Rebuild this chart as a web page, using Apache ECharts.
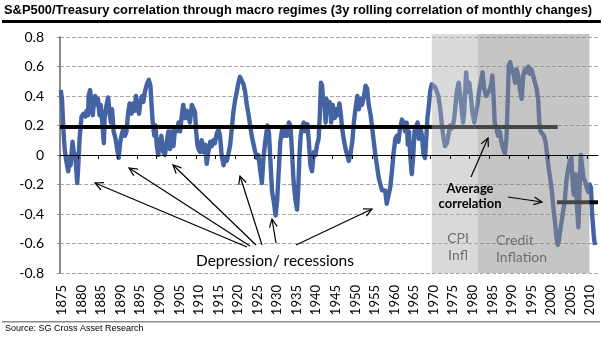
<!DOCTYPE html>
<html>
<head>
<meta charset="utf-8">
<script src="https://cdn.jsdelivr.net/npm/echarts@6/dist/echarts.min.js"></script>
<style>
html,body{margin:0;padding:0;background:#fff;}
#c{width:603px;height:339px;}
</style>
</head>
<body>
<div id="c"></div>
<script>
// ---- data ----
var years = [
1874.7,1875.0,1875.4,1875.7,1876.1,1876.6,1877.0,1877.2,1877.7,1878.0,1878.4,1878.9,1879.1,1879.5,1880.0,1880.5,1881.0,1881.3,1881.7,1881.8,
1882.2,1882.5,1882.9,1883.2,1883.5,1883.9,1884.2,1884.6,1884.9,1885.3,1885.7,1885.9,1886.4,1886.8,1887.1,1887.5,1887.8,1888.2,1888.7,1889.1,
1889.5,1889.9,1890.2,1890.6,1891.1,1891.5,1891.9,1892.3,1892.8,1893.2,1893.6,1893.9,1894.3,1894.7,1895.1,1895.5,1895.8,1896.2,1896.7,1897.2,
1897.6,1897.9,1898.2,1898.6,1898.9,1899.2,1899.6,1900.0,1900.4,1900.9,1901.3,1901.8,1902.2,1902.6,1903.0,1903.5,1903.9,1904.3,1904.8,1905.2,
1905.6,1906.0,1906.5,1906.9,1907.3,1907.7,1908.2,1908.6,1909.0,1909.3,1909.6,1909.9,1910.3,1910.7,1911.2,1911.6,1912.0,1912.4,1912.9,1913.3,
1913.7,1914.1,1914.6,1915.0,1915.4,1915.8,1916.3,1916.7,1917.1,1917.5,1918.0,1918.4,1918.8,1919.3,1919.7,1920.1,1920.5,1921.0,1921.4,1921.8,
1922.2,1922.7,1923.1,1923.5,1923.9,1924.4,1924.8,1925.2,1925.6,1926.1,1926.5,1927.0,1927.5,1927.9,1928.3,1928.7,1929.1,1929.6,1930.0,1930.4,
1930.8,1931.3,1931.7,1932.1,1932.5,1933.0,1933.4,1933.8,1934.2,1934.7,1935.1,1935.4,1935.7,1936.0,1936.4,1936.8,1937.2,1937.7,1938.1,1938.5,
1938.9,1939.4,1939.8,1940.2,1940.6,1940.9,1941.2,1941.5,1941.8,1942.0,1942.4,1942.6,1942.9,1943.4,1943.8,1944.2,1944.7,1945.1,1945.5,1945.9,
1946.3,1946.6,1947.0,1947.5,1947.9,1948.3,1948.7,1949.2,1949.6,1950.0,1950.5,1950.9,1951.3,1951.7,1952.2,1952.6,1953.0,1953.4,1953.9,1954.3,
1954.7,1955.1,1955.6,1956.0,1956.4,1956.8,1957.2,1957.6,1958.0,1958.4,1958.9,1959.3,1959.7,1960.2,1960.6,1961.0,1961.4,1961.9,1962.3,1962.7,
1963.1,1963.4,1963.7,1964.0,1964.4,1964.8,1965.1,1965.4,1965.9,1966.2,1966.6,1967.0,1967.4,1967.8,1968.1,1968.4,1968.8,1969.1,1969.5,1970.0,
1970.4,1970.8,1971.2,1971.7,1972.1,1972.5,1972.9,1973.4,1973.8,1974.2,1974.6,1975.1,1975.5,1975.9,1976.4,1976.8,1977.2,1977.5,1977.8,1978.3,
1978.7,1979.1,1979.5,1979.9,1980.4,1980.8,1981.2,1981.6,1982.1,1982.5,1982.9,1983.4,1983.9,1984.4,1984.8,1985.0,1985.3,1985.6,1986.1,1986.5,
1986.9,1987.3,1987.8,1988.2,1988.6,1988.9,1989.2,1989.6,1989.9,1990.3,1990.8,1991.2,1991.6,1992.0,1992.5,1992.9,1993.3,1993.7,1994.2,1994.6,
1995.0,1995.4,1995.9,1996.3,1996.7,1997.0,1997.3,1997.7,1998.2,1998.6,1999.0,1999.4,1999.9,2000.3,2000.6,2001.0,2001.3,2001.7,2002.0,2002.3,
2002.7,2003.1,2003.5,2003.9,2004.4,2004.8,2005.2,2005.5,2005.8,2006.3,2006.6,2007.0,2007.3,2007.6,2008.0,2008.3,2008.7,2009.1,2009.5,2009.9,
2010.2,2010.5,2010.9,2011.2
];
var correlation = [
0.44,0.38,0.16,0.04,-0.04,-0.11,-0.02,-0.07,0.09,0.02,0.00,-0.19,-0.11,0.11,0.26,0.28,0.26,0.30,0.27,0.40,
0.44,0.36,0.27,0.38,0.40,0.34,0.38,0.27,0.34,0.22,0.08,0.25,0.34,0.39,0.31,0.22,0.31,0.16,0.11,0.04,
-0.02,0.09,0.13,0.17,0.13,0.16,0.28,0.35,0.28,0.35,0.30,0.40,0.33,0.28,0.37,0.40,0.36,0.43,0.48,0.51,
0.47,0.34,0.22,0.13,0.20,0.07,0.00,0.08,0.13,0.02,0.00,0.09,0.16,0.04,0.16,0.06,0.18,0.16,0.22,0.16,
0.26,0.34,0.25,0.30,0.26,0.22,0.34,0.35,0.29,0.16,0.07,0.04,0.02,0.10,0.02,0.07,-0.06,0.02,0.09,0.06,
0.10,0.08,0.15,0.17,0.13,0.00,-0.07,-0.02,-0.04,0.00,0.07,0.18,0.29,0.38,0.43,0.49,0.53,0.52,0.48,0.43,
0.35,0.27,0.20,0.13,0.08,0.02,-0.02,0.00,-0.09,-0.19,-0.02,0.10,0.20,0.15,-0.05,-0.25,-0.31,-0.41,-0.31,-0.11,
0.09,0.18,0.13,0.19,0.13,0.22,0.20,0.02,-0.18,-0.31,-0.37,-0.22,0.00,0.13,0.19,0.22,0.16,0.21,0.09,-0.07,
-0.11,0.02,0.00,0.07,0.11,0.27,0.49,0.47,0.34,0.38,0.22,0.38,0.29,0.36,0.22,0.34,0.25,0.31,0.27,0.35,
0.27,0.18,0.11,0.04,0.00,-0.04,0.00,0.09,0.22,0.31,0.40,0.31,0.38,0.34,0.40,0.47,0.45,0.34,0.27,0.18,
0.09,0.00,-0.09,-0.16,-0.20,-0.24,-0.25,-0.24,-0.33,-0.28,-0.22,-0.12,0.00,0.11,0.13,0.09,0.18,0.24,0.22,0.16,
0.22,0.07,0.16,0.00,-0.13,0.00,0.16,0.19,0.22,0.11,0.19,0.13,0.00,-0.02,0.11,0.25,0.34,0.43,0.48,0.49,
0.46,0.45,0.40,0.31,0.20,0.12,0.06,0.08,0.14,0.20,0.18,0.22,0.31,0.43,0.49,0.40,0.30,0.22,0.29,0.56,
0.43,0.49,0.40,0.29,0.22,0.29,0.34,0.43,0.50,0.56,0.45,0.40,0.42,0.45,0.49,0.54,0.40,0.22,0.17,0.13,
0.16,0.09,0.04,0.01,0.11,0.34,0.61,0.63,0.56,0.58,0.49,0.58,0.54,0.45,0.38,0.54,0.58,0.56,0.60,0.55,
0.58,0.57,0.49,0.45,0.38,0.22,0.16,0.17,0.13,0.09,0.00,-0.09,-0.18,-0.27,-0.36,-0.45,-0.54,-0.61,-0.58,-0.52,
-0.45,-0.38,-0.31,-0.18,-0.09,-0.04,-0.02,-0.18,-0.27,-0.13,-0.34,-0.49,-0.22,0.00,-0.09,-0.16,-0.18,-0.22,-0.25,-0.20,
-0.22,-0.40,-0.54,-0.61
];
var tickYears = [1875,1880,1885,1890,1895,1900,1905,1910,1915,1920,1925,1930,1935,1940,1945,1950,1955,1960,1965,1970,1975,1980,1985,1990,1995,2000,2005,2010];
var minorTicks = [1879.2,1884.2,1889.2,1894.2,1899.2,1904.2,1909.2,1914.2,1919.2,1924.2,1929.2,1934.2,1939.2,1944.2,1949.2,1954.2,1959.2,1964.2,1969.2,1974.2,1979.2,1984.2,1989.2,1994.2,1999.2,2004.2,2009.2];
var regimeStart = [1969.5, 1981.2];
var regimeEnd = [1981.2, 2009.8];
var regimeTop = 0.82;
var avgPreStart = 1874.5, avgPreEnd = 2001.7, avgPre = 0.19;
var avgPostStart = 2001.5, avgPostEnd = 2012, avgPost = -0.32;

var lineData = years.map(function(y,i){return [y, correlation[i]];});
var regimeData = regimeStart.map(function(s,i){return [s, regimeEnd[i]];});
var regimeFill = ['rgba(172,172,172,0.45)','rgba(140,140,140,0.5)'];

function arrow(x1,y1,x2,y2){
  var ang = Math.atan2(y2-y1, x2-x1), L = 9, a = 0.45;
  var p1 = [x2 - L*Math.cos(ang-a), y2 - L*Math.sin(ang-a)];
  var p2 = [x2 - L*Math.cos(ang+a), y2 - L*Math.sin(ang+a)];
  return [
    {type:'polyline', z:50, shape:{points:[[x1,y1],[x2,y2]]}, style:{stroke:'#000', lineWidth:1.2, fill:null}},
    {type:'polyline', z:50, shape:{points:[p1,[x2,y2],p2]}, style:{stroke:'#000', lineWidth:1.2, fill:null}}
  ];
}
var arrows = [].concat(
  arrow(247,247,95,183),
  arrow(250,246,129,168),
  arrow(256,245,173,165),
  arrow(262,245,240,176),
  arrow(276,243,272,219),
  arrow(296,245,372,209),
  arrow(471,177,488,138),
  arrow(508,197,542,202)
);

var F = 'Lato, "Open Sans", sans-serif';
var chart = echarts.init(document.getElementById('c'));
chart.setOption({
  animation:false,
  backgroundColor:'#fff',
  grid:{left:60, top:37, width:538, height:236, containLabel:false},
  xAxis:[
    {type:'value', min:1874.5, max:2012, position:'bottom', z:10,
     axisLine:{show:true, onZero:true, lineStyle:{color:'#000', width:1}},
     axisTick:{show:true, customValues:minorTicks, length:4, lineStyle:{color:'#000', width:1}},
     axisLabel:{show:false}, splitLine:{show:false}},
    {type:'value', min:1874.5, max:2012, position:'bottom',
     axisLine:{show:false, onZero:false}, axisTick:{show:false}, splitLine:{show:false},
     axisLabel:{show:true, customValues:tickYears, rotate:90, margin:12, fontSize:13, fontFamily:F, color:'#000',
       formatter:function(v){return String(Math.round(v));}}}
  ],
  yAxis:{type:'value', min:-0.8, max:0.8, interval:0.2,
     axisLine:{show:true, lineStyle:{color:'#8a8a8a', width:2}},
     axisTick:{show:true, length:3, lineStyle:{color:'#8a8a8a'}},
     axisLabel:{fontSize:14, fontFamily:F, color:'#000', margin:16},
     splitLine:{show:true, lineStyle:{color:'#a6a6a6', type:[4,2], width:1}}},
  series:[
    {type:'line', xAxisIndex:0, data:lineData, showSymbol:false, symbol:'none', z:2,
     lineStyle:{color:'#4463a3', width:4.4, join:'round'}},
    {type:'line', xAxisIndex:0, data:[[avgPreStart,avgPre],[avgPreEnd,avgPre]], symbol:'none', z:3,
     lineStyle:{color:'#000', width:4}},
    {type:'line', xAxisIndex:0, data:[[avgPostStart,avgPost],[avgPostEnd,avgPost]], symbol:'none', z:3,
     lineStyle:{color:'#000', width:4}},
    {type:'custom', xAxisIndex:0, clip:false, z:4, data:regimeData,
     renderItem:function(params, api){
       var a = api.coord([api.value(0), regimeTop]);
       var b = api.coord([api.value(1), -0.8]);
       return {type:'rect', shape:{x:a[0], y:a[1], width:b[0]-a[0], height:b[1]-a[1]},
               style:{fill:regimeFill[params.dataIndex]}};
     }}
  ],
  graphic:[
    {type:'text', left:4, top:4, z:50, style:{text:'S&P500/Treasury correlation through macro regimes (3y rolling correlation of monthly changes)', font:'bold 12.9px "Liberation Sans", Arial, sans-serif', fill:'#000'}},
    {type:'rect', z:50, shape:{x:2, y:20, width:599, height:3}, style:{fill:'#000'}},
    {type:'rect', z:50, shape:{x:2, y:321, width:598, height:1.5}, style:{fill:'#8c8c8c'}},
    {type:'text', left:5, top:324, z:50, style:{text:'Source: SG Cross Asset Research', font:'9px "Liberation Sans", Arial, sans-serif', fill:'#000'}},
    {type:'text', z:50, style:{x:196, y:261, text:'Depression/ recessions', font:'15.5px '+F, fill:'#000', textVerticalAlign:'middle'}},
    {type:'text', z:50, style:{x:458, y:238, text:'CPI', font:'14px '+F, fill:'#6f6f6f', textAlign:'center', textVerticalAlign:'middle'}},
    {type:'text', z:50, style:{x:458, y:255, text:'Infl', font:'14px '+F, fill:'#6f6f6f', textAlign:'center', textVerticalAlign:'middle'}},
    {type:'text', z:50, style:{x:496, y:240, text:'Credit', font:'14px '+F, fill:'#6f6f6f', textVerticalAlign:'middle'}},
    {type:'text', z:50, style:{x:496, y:257, text:'Inflation', font:'14px '+F, fill:'#6f6f6f', textVerticalAlign:'middle'}},
    {type:'text', z:50, style:{x:470, y:189, text:'Average', font:'bold 13px '+F, fill:'#000', textAlign:'center', textVerticalAlign:'middle'}},
    {type:'text', z:50, style:{x:470, y:204, text:'correlation', font:'bold 13px '+F, fill:'#000', textAlign:'center', textVerticalAlign:'middle'}}
  ].concat(arrows)
});
</script>
</body>
</html>
